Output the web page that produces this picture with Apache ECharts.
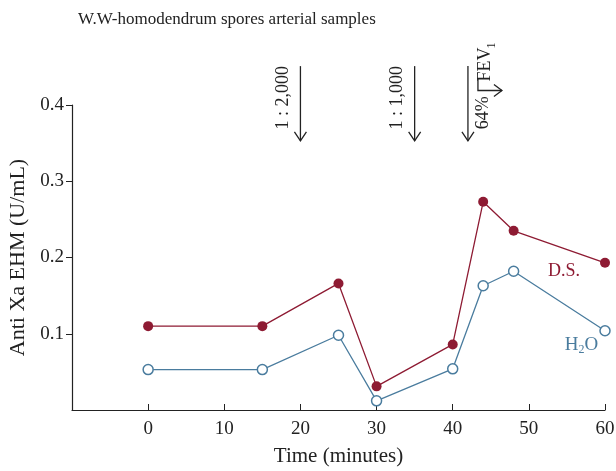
<!DOCTYPE html>
<html><head><meta charset="utf-8">
<script src="https://cdn.jsdelivr.net/npm/echarts@6/dist/echarts.min.js"></script>
<style>html,body{margin:0;padding:0;background:#fff}#c{width:616px;height:471px}</style>
</head><body><div id="c"></div>
<script>
const times = [0, 15, 25, 30, 40, 44, 48, 60];
const dsValues = [0.110, 0.110, 0.166, 0.031, 0.086, 0.273, 0.235, 0.193];
const h2oValues = [0.053, 0.053, 0.098, 0.012, 0.054, 0.163, 0.182, 0.104];
const xTicks = [0, 10, 20, 30, 40, 50, 60];
const yTicks = [0.1, 0.2, 0.3, 0.4];
const arrowTimes = [20, 35, 42];
const arrowLabels = ['1 : 2,000', '1 : 1,000', '64%'];

const RED = '#8E1B33', BLUE = '#4A7C9E', FONT = 'Liberation Serif';
const chart = echarts.init(document.getElementById('c'));
const tick = {fontFamily: FONT, color: '#222', fontSize: 19};
const nameS = {fontFamily: FONT, color: '#222', fontSize: 21};
chart.setOption({
  animation: false,
  title: {text: 'W.W-homodendrum spores arterial samples', left: 73, top: 6,
    textStyle: {fontFamily: FONT, fontWeight: 'normal', fontSize: 17, color: '#222'}},
  grid: {left: 72, right: 11, top: 105, bottom: 61, containLabel: false, outerBoundsMode: 'none'},
  xAxis: {type: 'value', min: -10, max: 60, interval: 10,
    name: 'Time (minutes)', nameLocation: 'middle', nameGap: 36,
    nameTextStyle: nameS,
    axisLine: {onZero: false, lineStyle: {color: '#222', width: 1.2}},
    axisTick: {inside: true, length: 6, lineStyle: {color: '#222'}, customValues: xTicks},
    axisLabel: Object.assign({margin: 10, customValues: xTicks}, tick),
    splitLine: {show: false}},
  yAxis: {type: 'value', min: 0, max: 0.4, interval: 0.1,
    name: 'Anti Xa EHM (U/mL)', nameLocation: 'middle', nameGap: 43,
    nameTextStyle: Object.assign({}, nameS, {fontSize: 22}),
    axisLine: {show: true, onZero: false, lineStyle: {color: '#222', width: 1.2}},
    axisTick: {show: true, length: 6, lineStyle: {color: '#222'}, customValues: yTicks},
    axisLabel: Object.assign({margin: 8, customValues: yTicks, formatter: v => v.toFixed(1)}, tick),
    splitLine: {show: false}},
  series: [
    {name: 'D.S.', type: 'line', data: times.map((t, i) => [t, dsValues[i]]),
     symbol: 'circle', symbolSize: 10, z: 3,
     lineStyle: {color: RED, width: 1.3}, itemStyle: {color: RED}},
    {name: 'H2O', type: 'line', data: times.map((t, i) => [t, h2oValues[i]]),
     symbol: 'circle', symbolSize: 10,
     lineStyle: {color: BLUE, width: 1.3}, itemStyle: {color: '#fff', borderColor: BLUE, borderWidth: 1.5}}
  ]
});

function px(x, y) { return chart.convertToPixel({gridIndex: 0}, [x, y]); }
const g = [];
const lineS = {stroke: '#222', lineWidth: 1.3, fill: null};
arrowTimes.forEach((t, i) => {
  const top = px(t, 0.451), bot = px(t, 0.353);
  const x = top[0];
  g.push({type: 'polyline', shape: {points: [[x, top[1]], [x, bot[1]]]}, style: lineS});
  g.push({type: 'polyline', shape: {points: [[x - 6, bot[1] - 9], [x, bot[1]], [x + 6, bot[1] - 9]]}, style: lineS});
  const lx = i === 2 ? x + 15 : x - 17;
  const ly = i === 2 ? bot[1] - 28 : bot[1] - 43;
  g.push({type: 'text', x: lx, y: ly, rotation: Math.PI / 2,
    style: {text: arrowLabels[i], font: '18px ' + FONT, fill: '#222', align: 'center', verticalAlign: 'middle'}});
});
// FEV1 bracket arrow
const a = px(42, 0.451);
const bx = a[0] + 10, by0 = px(42, 0.434)[1], by1 = px(42, 0.419)[1];
g.push({type: 'polyline', shape: {points: [[bx, by0], [bx, by1], [bx + 24, by1]]}, style: lineS});
g.push({type: 'polyline', shape: {points: [[bx + 16, by1 - 6], [bx + 24, by1], [bx + 16, by1 + 6]]}, style: lineS});
g.push({type: 'text', x: bx + 7, y: by1 - 26, rotation: Math.PI / 2,
  style: {text: 'FEV', font: '18px ' + FONT, fill: '#222', align: 'center', verticalAlign: 'middle'}});
g.push({type: 'text', x: bx + 14, y: by1 - 45, rotation: Math.PI / 2,
  style: {text: '1', font: '12px ' + FONT, fill: '#222', align: 'center', verticalAlign: 'middle'}});
// series labels
const ds = px(54.6, 0.182), h = px(56.9, 0.085);
g.push({type: 'text', x: ds[0], y: ds[1],
  style: {text: 'D.S.', font: '18px ' + FONT, fill: RED, align: 'center', verticalAlign: 'middle'}});
g.push({type: 'text', x: h[0], y: h[1],
  style: {rich: {n: {fontFamily: FONT, fontSize: 19, fill: BLUE}, s: {fontFamily: FONT, fontSize: 12, fill: BLUE, padding: [9, 0, 0, 0]}},
    text: '{n|H}{s|2}{n|O}', align: 'center', verticalAlign: 'middle'}});
chart.setOption({graphic: g});
</script></body></html>
